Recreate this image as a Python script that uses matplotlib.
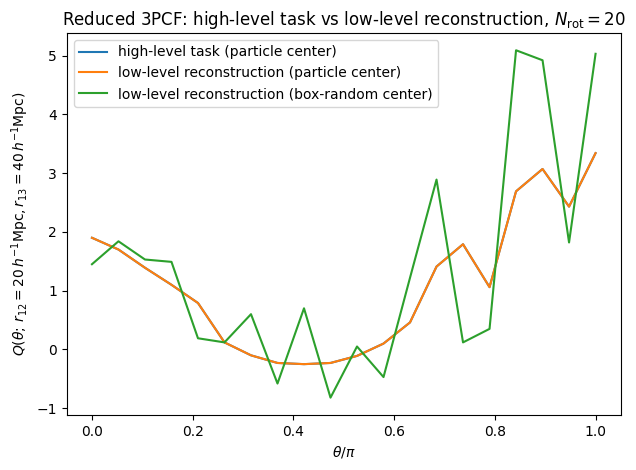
import numpy as np
import matplotlib
matplotlib.use("Agg")
import matplotlib.pyplot as plt

# theta / pi, 20 bins
theta = np.linspace(0, 1, 20)

high_level = [1.90, 1.70, 1.39, 1.10, 0.79, 0.12, -0.10, -0.23, -0.25, -0.23,
              -0.11, 0.10, 0.46, 1.41, 1.79, 1.06, 2.69, 3.07, 2.43, 3.34]
low_particle = [1.90, 1.70, 1.39, 1.10, 0.79, 0.12, -0.10, -0.23, -0.25, -0.23,
                -0.11, 0.10, 0.46, 1.41, 1.79, 1.06, 2.69, 3.07, 2.43, 3.34]
low_box = [1.45, 1.84, 1.53, 1.49, 0.19, 0.12, 0.60, -0.58, 0.70, -0.82,
           0.05, -0.47, 1.22, 2.89, 0.12, 0.35, 5.09, 4.92, 1.82, 5.03]

fig, ax = plt.subplots(figsize=(6.36, 4.7), dpi=100)
ax.plot(theta, high_level, label="high-level task (particle center)")
ax.plot(theta, low_particle, label="low-level reconstruction (particle center)")
ax.plot(theta, low_box, label="low-level reconstruction (box-random center)")

ax.set_xlabel(r"$\theta/\pi$")
ax.set_ylabel(r"$Q(\theta;\, r_{12}=20\,h^{-1}{\rm Mpc}, r_{13}=40\,h^{-1}{\rm Mpc})$")
ax.set_title(r"Reduced 3PCF: high-level task vs low-level reconstruction, $N_{\rm rot}=20$")
ax.legend(loc="upper left")

fig.subplots_adjust(left=0.105, right=0.976, top=0.930, bottom=0.117)
fig.savefig("out.png")
